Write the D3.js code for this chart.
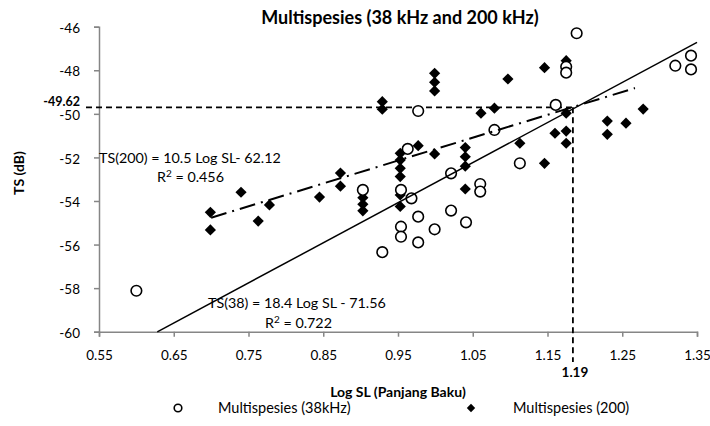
<!DOCTYPE html>
<html><head><meta charset="utf-8">
<script src="https://cdn.jsdelivr.net/npm/d3@7"></script>
<style>body{margin:0;background:#fff}svg{display:block}text{font-family:Lato,"Open Sans",sans-serif}</style>
</head><body><svg id="c" width="710" height="426"></svg>
<script>
const xTicks=[0.55,0.65,0.75,0.85,0.95,1.05,1.15,1.25,1.35];
const yTicks=[-60,-58,-56,-54,-52,-50,-48,-46];
const s38=[[0.600,-58.12],[0.903,-53.49],[0.929,-56.35],[0.954,-53.49],[0.968,-53.88],[0.954,-55.18],[0.954,-55.64],[0.977,-54.72],[0.977,-55.90],[0.999,-55.30],[1.021,-54.44],[1.041,-54.98],[1.021,-52.73],[1.060,-53.22],[1.060,-53.57],[0.977,-49.87],[0.963,-51.61],[1.079,-50.74],[1.113,-52.27],[1.161,-49.59],[1.175,-47.84],[1.175,-48.11],[1.189,-46.30],[1.321,-47.79],[1.342,-47.33],[1.342,-47.96]];
const s200=[[0.699,-54.52],[0.699,-55.33],[0.740,-53.60],[0.763,-54.92],[0.778,-54.18],[0.845,-53.82],[0.873,-52.72],[0.873,-53.32],[0.903,-53.85],[0.903,-54.15],[0.903,-54.45],[0.929,-49.44],[0.929,-49.79],[0.953,-51.81],[0.953,-52.12],[0.953,-52.50],[0.953,-52.88],[0.953,-53.72],[0.953,-54.25],[0.977,-51.46],[0.999,-51.84],[0.999,-48.14],[0.999,-48.55],[0.999,-48.95],[1.040,-51.55],[1.040,-51.97],[1.040,-52.40],[1.040,-53.45],[1.061,-49.97],[1.079,-49.74],[1.097,-48.40],[1.113,-51.35],[1.146,-52.27],[1.146,-47.88],[1.160,-50.89],[1.175,-47.56],[1.175,-49.97],[1.175,-50.79],[1.175,-51.35],[1.230,-50.33],[1.230,-50.94],[1.255,-50.43],[1.278,-49.78]];
const fit38={slope:18.4,intercept:-71.56,x0:0.628,x1:1.35};
const fit200={slope:10.5,intercept:-62.12,x0:0.70,x1:1.267};
const refPoint={x:1.184,y:-49.7,xLabel:"1.19",yLabel:"-49.62"};

const svg=d3.select("#c");
const x=d3.scaleLinear().domain([0.55,1.35]).range([99,697]);
const y=d3.scaleLinear().domain([-60,-46]).range([331.7,26.7]);
const axisCol="#868686";

// axes
const gx=svg.append("g").attr("transform","translate(0,331.7)")
 .call(d3.axisBottom(x).tickValues(xTicks).tickFormat(d3.format(".2f")).tickSize(5).tickPadding(14));
const gy=svg.append("g").attr("transform","translate(99,0)")
 .call(d3.axisLeft(y).tickValues(yTicks).tickFormat(d=>d).tickSize(5).tickPadding(14));
[gx,gy].forEach(g=>{g.select(".domain").attr("stroke",axisCol).attr("stroke-width",1.5);
 g.selectAll(".tick line").attr("stroke",axisCol).attr("stroke-width",1.5);
 g.selectAll(".tick text").attr("fill","#000").style("font-size","13.5px").style("font-family","Lato,sans-serif");});
gy.selectAll(".tick text").attr("dy","0.42em");

// reference dashed lines
svg.append("line").attr("x1",86).attr("x2",x(refPoint.x)).attr("y1",y(refPoint.y)).attr("y2",y(refPoint.y))
 .attr("stroke","#000").attr("stroke-width",1.8).attr("stroke-dasharray","6,4");
svg.append("line").attr("x1",x(refPoint.x)).attr("x2",x(refPoint.x)).attr("y1",y(refPoint.y)).attr("y2",362)
 .attr("stroke","#000").attr("stroke-width",1.8).attr("stroke-dasharray","6,4");
svg.append("text").attr("x",80).attr("y",y(refPoint.y)-1.5).attr("text-anchor","end")
 .style("font-weight","bold").style("font-size","12.5px").text(refPoint.yLabel);
svg.append("text").attr("x",x(refPoint.x)+2).attr("y",377).attr("text-anchor","middle")
 .style("font-weight","bold").style("font-size","13.5px").text(refPoint.xLabel);

// diamonds (200 kHz)
const dsym=d3.symbol().type(d3.symbolDiamond2).size(80);
svg.append("g").selectAll("path").data(s200).join("path")
 .attr("transform",d=>`translate(${x(d[0])},${y(d[1])})`)
 .attr("d",dsym).attr("fill","#000");
// circles (38 kHz)
svg.append("g").selectAll("circle").data(s38).join("circle")
 .attr("cx",d=>x(d[0])).attr("cy",d=>y(d[1])).attr("r",5.3)
 .attr("fill","#fff").attr("stroke","#000").attr("stroke-width",1.6);

// trendlines
const line=d3.line().x(d=>x(d[0])).y(d=>y(d[1]));
function pts(f){return [[f.x0,f.slope*f.x0+f.intercept],[f.x1,f.slope*f.x1+f.intercept]];}
svg.append("path").attr("d",line(pts(fit38))).attr("stroke","#000").attr("stroke-width",1.5).attr("fill","none");
svg.append("path").attr("d",line(pts(fit200))).attr("stroke","#000").attr("stroke-width",2).attr("fill","none")
 .attr("stroke-dasharray","16,6,2,6");

// equations
function eq(tx,ty,t,rx,ry,r){
 svg.append("text").attr("x",tx).attr("y",ty).style("font-size","14.3px").text(t);
 const tt=svg.append("text").attr("x",rx).attr("y",ry).style("font-size","14.3px");
 tt.append("tspan").text("R");tt.append("tspan").attr("dy",-5).style("font-size","10px").text("2");
 tt.append("tspan").attr("dy",5).text(" = "+r);
}
eq(99,163,"TS(200) = 10.5 Log SL- 62.12",157,182,"0.456");
eq(208,308,"TS(38) = 18.4 Log SL - 71.56",265,328,"0.722");

// title & axis labels
svg.append("text").attr("x",400).attr("y",24).attr("text-anchor","middle").style("font-weight","bold").style("font-size","18px")
 .text("Multispesies (38 kHz and  200 kHz)");
svg.append("text").attr("transform","translate(24,173) rotate(-90)").attr("text-anchor","middle").style("font-weight","bold").style("font-size","14px").text("TS (dB)");
svg.append("text").attr("x",398).attr("y",397).attr("text-anchor","middle").style("font-weight","bold").style("font-size","14px").text("Log SL (Panjang Baku)");

// legend
svg.append("circle").attr("cx",178).attr("cy",408).attr("r",3.8).attr("fill","#fff").attr("stroke","#000").attr("stroke-width",1.6);
svg.append("text").attr("x",218).attr("y",413).style("font-size","14.5px").text("Multispesies (38kHz)");
svg.append("path").attr("transform","translate(471,408)").attr("d",d3.symbol().type(d3.symbolDiamond2).size(45)).attr("fill","#000");
svg.append("text").attr("x",513).attr("y",413).style("font-size","14.5px").text("Multispesies (200)");
</script></body></html>
